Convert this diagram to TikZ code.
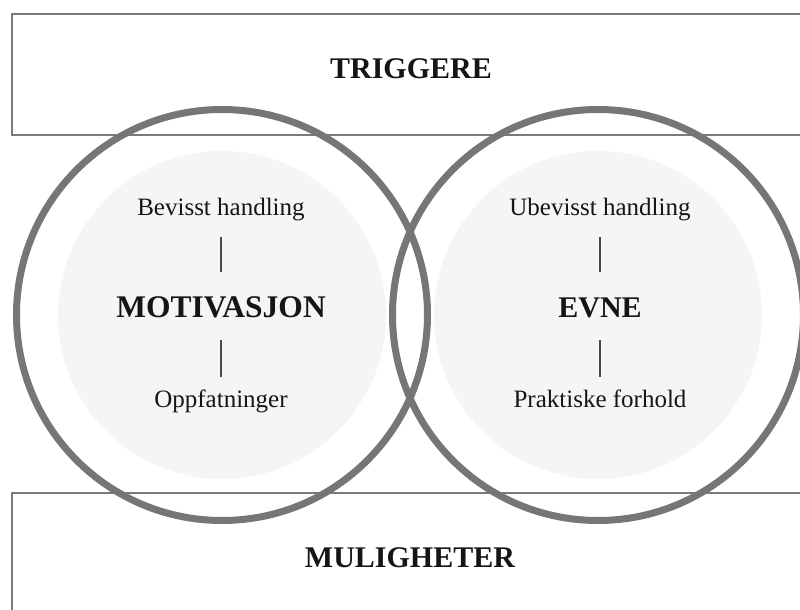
\documentclass[tikz,border=0pt]{standalone}
\usepackage{fontspec}
\setmainfont{Liberation Serif}
\definecolor{framegray}{HTML}{7A7A7A}
\definecolor{ringgray}{HTML}{767676}
\definecolor{fillgray}{HTML}{F5F5F5}
\definecolor{textblack}{HTML}{151515}
\definecolor{linegray}{HTML}{4A4A4A}
\tikzset{
  band/.style={draw=framegray, line width=2.2pt, fill=white},
  ring/.style={draw=ringgray, line width=7pt},
  innerfill/.style={fill=fillgray, draw=none},
  bigtitle/.style={font=\fontsize{30}{36}\selectfont\bfseries, text=textblack, inner sep=0pt, anchor=base, text height=21pt, text depth=0pt},
  smalltext/.style={font=\fontsize{25}{30}\selectfont, text=textblack, inner sep=0pt, anchor=base, text height=17pt, text depth=5pt},
  stem/.style={draw=linegray, line width=1.4pt}
}
\begin{document}
\begin{tikzpicture}[x=1pt, y=-1pt]
\useasboundingbox (0,0) rectangle (800,610);
\clip (0,0) rectangle (800,610);
% bands
\draw[band] (12,14) rectangle (830,135);
\draw[band] (12,493) rectangle (830,640);
% inner light discs
\fill[innerfill] (222,315) circle (164);
\fill[innerfill] (598,315) circle (164);
% rings
\draw[ring] (222,315) circle (205.5);
\draw[ring] (598,315) circle (205.5);
% band titles
\node[bigtitle] (trig) at (411,78) {TRIGGERE};
\node[bigtitle] (mul) at (410,567) {MULIGHETER};
% left column
\node[smalltext] (bev) at (221,215) {Bevisst handling};
\node[bigtitle, font=\fontsize{31.5}{37}\selectfont\bfseries] (mot) at (221,317) {MOTIVASJON};
\node[smalltext] (opp) at (221,407) {Oppfatninger};
% right column
\node[smalltext] (ubev) at (600,215) {Ubevisst handling};
\node[bigtitle] (evne) at (600,317) {EVNE};
\node[smalltext] (prak) at (600,407) {Praktiske forhold};
% stems
\draw[stem, shorten <=17pt, shorten >=24pt] (bev.south) -- (mot.north);
\draw[stem, shorten <=23pt, shorten >=13pt] (mot.south) -- (opp.north);
\draw[stem, shorten <=17pt, shorten >=24pt] (ubev.south) -- (evne.north);
\draw[stem, shorten <=23pt, shorten >=13pt] (evne.south) -- (prak.north);
\end{tikzpicture}
\end{document}
